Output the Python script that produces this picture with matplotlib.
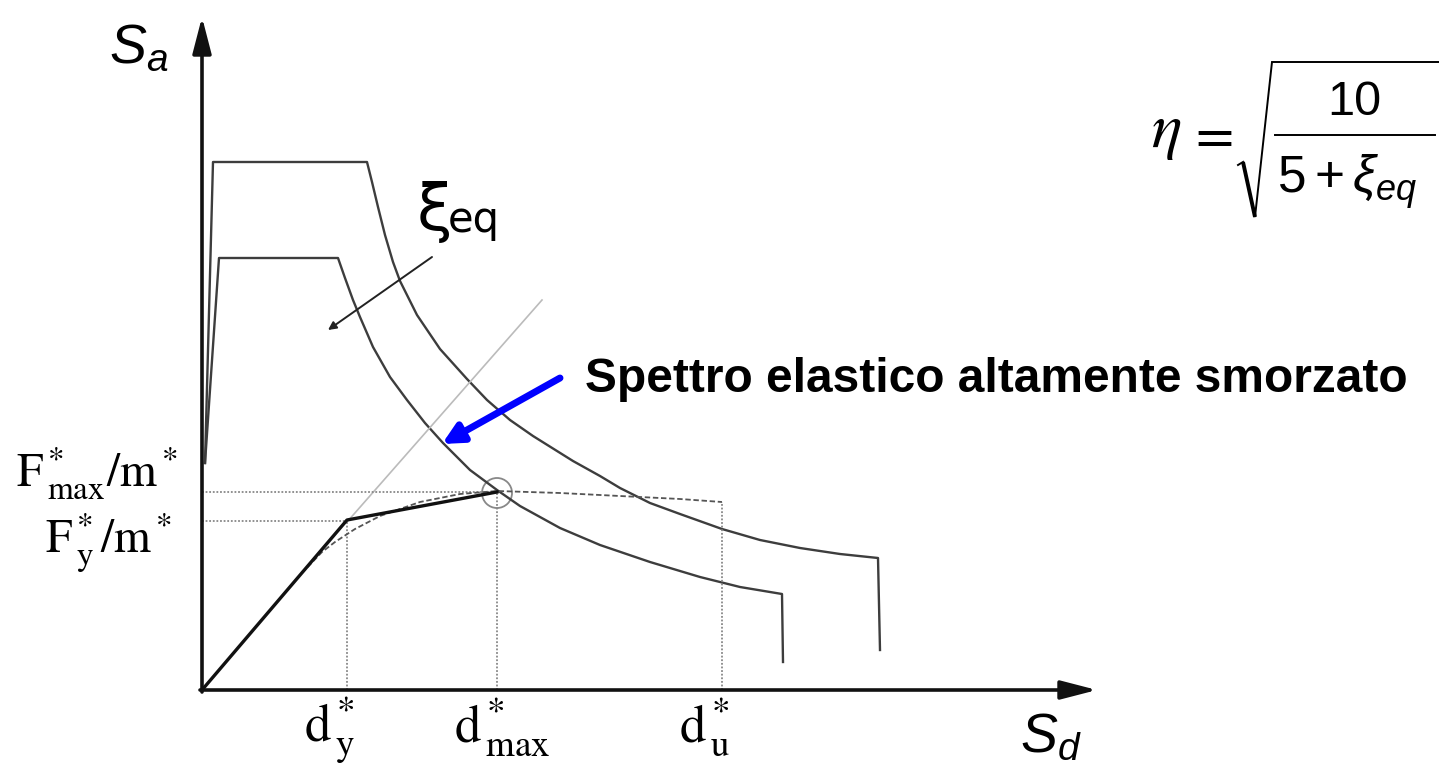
import matplotlib
matplotlib.use("Agg")
import matplotlib.pyplot as plt
from matplotlib.patches import Circle

# ---------------- data (diagram units: Sd to the right, Sa upward, origin at axes crossing) ----
# outer (less damped) elastic spectrum
outer_sd = [3, 11, 165, 170, 176, 183, 191, 198, 215, 238, 265, 285, 308, 331,
            371, 398, 418, 448, 478, 520, 558, 598, 638, 676, 678]
outer_sa = [227, 528, 528, 508, 483, 455, 428, 409, 375, 341, 311, 290, 270, 254,
            229, 214, 202, 187, 176, 161, 150, 142, 136, 132, 40]
# inner (highly damped) elastic spectrum
inner_sd = [3, 17, 136, 143, 151, 158, 171, 188, 205, 223, 241, 268, 295, 318,
            358, 398, 448, 498, 538, 580, 581]
inner_sa = [227, 432, 432, 412, 390, 373, 343, 313, 290, 267, 247, 220, 200, 184,
            162, 145, 128, 113, 103, 96, 28]
# bilinear equivalent capacity curve
bil_sd = [0, 145, 295]
bil_sa = [0, 170, 198]
# capacity curve (dashed)
cap_sd = [100, 120, 133, 153, 178, 218, 258, 295, 358, 418, 478, 520]
cap_sa = [117, 138, 148, 161, 174, 188, 196, 199, 197, 194, 191, 188]
# characteristic values
d_y, d_max, d_u = 145, 295, 520
f_y, f_max, f_u = 170, 198, 188
# elastic stiffness ray
ray_sd = [145, 340]
ray_sa = [168, 390]

tick_labels = [r"$\mathrm{d^*_{\,y}}$", r"$\mathrm{d^*_{\,max}}$", r"$\mathrm{d^*_{\,u}}$"]
ylabels = [r"$\mathrm{F^*_{\,max}/m^*}$", r"$\mathrm{F^*_{\,y}/m^*}$"]

plt.rcParams["mathtext.fontset"] = "custom"
plt.rcParams["mathtext.rm"] = "Liberation Sans"
plt.rcParams["mathtext.it"] = "Liberation Sans:italic"
plt.rcParams["mathtext.bf"] = "Liberation Sans:bold"

fig = plt.figure(figsize=(14.39, 7.70), dpi=100)
ax = fig.add_axes([0, 0, 1, 1])
ax.set_xlim(-202, 1237)
ax.set_ylim(-80, 690)
ax.axis("off")

# axes with arrows
head = "-|>,head_width=0.22,head_length=0.85"
ax.annotate("", xy=(0, 673), xytext=(0, -2),
            arrowprops=dict(arrowstyle=head, lw=2.6, color="#111111",
                            mutation_scale=26, shrinkA=0, shrinkB=0))
ax.annotate("", xy=(895, 0), xytext=(-2, 0),
            arrowprops=dict(arrowstyle=head, lw=2.6, color="#111111",
                            mutation_scale=26, shrinkA=0, shrinkB=0))

# spectra
ax.plot(outer_sd, outer_sa, color="#3d3d3d", lw=1.7, solid_joinstyle="round")
ax.plot(inner_sd, inner_sa, color="#3d3d3d", lw=1.7, solid_joinstyle="round")

# stiffness ray
ax.plot(ray_sd, ray_sa, color="#bbbbbb", lw=1.2)

# dotted reference lines
dot = dict(color="#888888", lw=1.3, ls=(0, (1, 1)))
ax.plot([0, d_max], [f_max, f_max], **dot)
ax.plot([0, d_y], [f_y - 1, f_y - 1], **dot)
ax.plot([d_y, d_y], [0, f_y], **dot)
ax.plot([d_max, d_max], [0, f_max], **dot)
ax.plot([d_u, d_u], [0, f_u], **dot)

# capacity curve and bilinear
ax.plot(cap_sd, cap_sa, color="#555555", lw=1.3, ls=(0, (3, 1.5)))
ax.plot(bil_sd, bil_sa, color="#111111", lw=2.4)

# circle at performance point
ax.add_patch(Circle((d_max, f_max - 1), 15, fill=False, ec="#888888", lw=1.3))

# arrows
ax.annotate("", xy=(126, 360), xytext=(230, 433),
            arrowprops=dict(arrowstyle="-|>", lw=1.4, color="#222222",
                            mutation_scale=12, shrinkA=0, shrinkB=0))
ax.annotate("", xy=(240, 246), xytext=(358, 312),
            arrowprops=dict(arrowstyle="-|>", lw=5, color="#0000ff",
                            mutation_scale=30, shrinkA=0, shrinkB=0))

# axis labels
ax.text(-93, 627, r"$S_a$", fontsize=40, math_fontfamily="custom", ha="left", va="baseline")
ax.text(818, -62, r"$S_d$", fontsize=40, math_fontfamily="custom", ha="left", va="baseline")
ax.text(-24, 203, ylabels[0], fontsize=34, math_fontfamily="stix", ha="right", va="baseline")
ax.text(-30, 137, ylabels[1], fontsize=34, math_fontfamily="stix", ha="right", va="baseline")
for xv, lab in zip([d_y, d_max, d_u], tick_labels):
    ax.text(xv - 43, -52, lab, fontsize=38, math_fontfamily="stix", ha="left", va="baseline")

ax.text(215, 460, "ξ", fontsize=46, family="DejaVu Sans", ha="left", va="baseline")
ax.text(246, 458, "eq", fontsize=30, family="DejaVu Sans", ha="left", va="baseline")

ax.text(383, 298, "Spettro elastico altamente smorzato", fontsize=34.5,
        family="Liberation Sans", fontweight="bold", ha="left", va="baseline")

# formula  eta = sqrt(10 / (5 + xi_eq))
ax.text(949, 543, r"$\eta$", fontsize=46, math_fontfamily="stix", ha="left", va="baseline")
ax.text(1008, 554, r"$=$", fontsize=40, math_fontfamily="stix", ha="center", va="center")
ax.plot([1036, 1041, 1053, 1070, 1237], [525, 528, 473, 628, 628], color="black", lw=1.4,
        solid_joinstyle="miter")
ax.plot([1041, 1053], [528, 473], color="black", lw=2.8, solid_capstyle="butt")
ax.text(1152, 575, "10", fontsize=35, family="Liberation Sans", ha="center", va="baseline")
ax.plot([1073, 1233], [555, 555], color="black", lw=1.4)
ax.text(1075, 497, r"$5+\xi_{eq}$", fontsize=37, math_fontfamily="custom",
        ha="left", va="baseline")

fig.savefig("out.png", dpi=100)
